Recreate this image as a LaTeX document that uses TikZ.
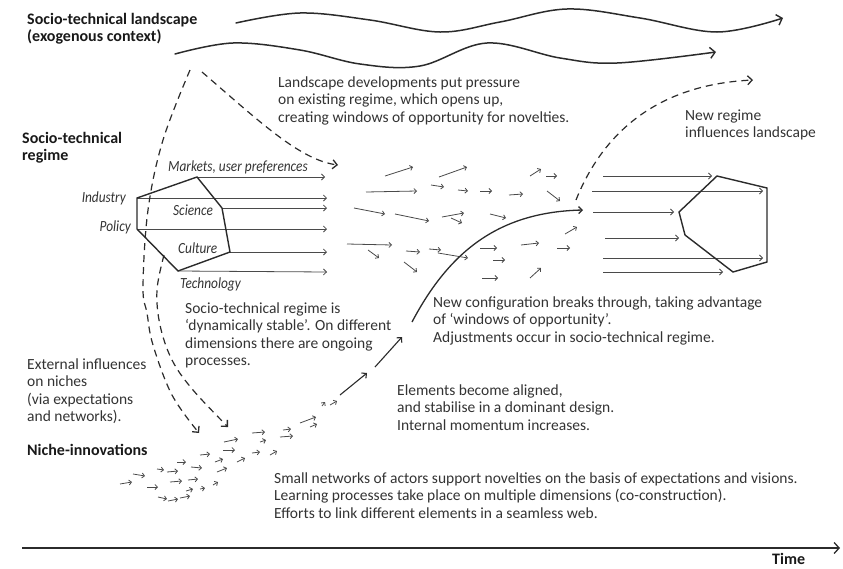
\documentclass[tikz,border=0pt]{standalone}
\usepackage{fontspec}
\setmainfont{Carlito}
\newfontfamily\condfont[FakeStretch=0.86]{Carlito}
\usetikzlibrary{arrows.meta}
\definecolor{ink}{HTML}{2B2B2B}
\definecolor{txtc}{HTML}{333333}
\definecolor{arrgray}{HTML}{4A4A4A}
\begin{document}
\begin{tikzpicture}[x=1pt,y=-1pt,
  wave/.style={line width=1.5pt, draw=ink, line cap=round, -{Straight Barb[length=5pt,width=11pt,line width=1.4pt]}},
  dashline/.style={line width=1.2pt, draw=ink, dash pattern=on 7pt off 5pt, -{Straight Barb[length=4.5pt,width=9pt,line width=1.3pt]}},
  sarr/.style={line width=0.8pt, draw=arrgray, -{Straight Barb[length=2.5pt,width=5pt]}},
  barr/.style={line width=1.1pt, draw=ink, -{Straight Barb[length=3.5pt,width=7pt]}},
  rarr/.style={line width=0.8pt, draw=arrgray, -{Straight Barb[length=3pt,width=6pt]}},
  poly/.style={line width=1.4pt, draw=ink, line join=miter},
  txt/.style={anchor=north west, align=left, inner sep=0pt, text=txtc, font=\fontsize{15.5}{17.5}\selectfont},
  ttl/.style={anchor=north west, align=left, inner sep=0pt, text=black!90, font=\fontsize{16}{17.5}\selectfont\bfseries},
  lbl/.style={inner sep=0pt, text=txtc, font=\condfont\itshape\fontsize{15.5}{17}\selectfont}
]
\useasboundingbox (0,0) rectangle (843,568);

% landscape waves
\draw[wave] plot[smooth, tension=0.6] coordinates {(236,23) (300,13) (370,20) (440,32) (500,22) (567,9) (640,18) (717,32) (783,18)};
\draw[wave] plot[smooth, tension=0.6] coordinates {(175,54) (233,43) (300,50) (360,64) (420,66) (487,43) (560,58) (617,63) (716,52)};

% titles (node top = first baseline - 12.25)
\node[ttl] (tland) at (27,11.75) {\strut Socio-technical landscape\\(exogenous context)};
\node[ttl] (treg) at (22,130.75) {\strut Socio-technical\\regime};
\node[ttl] (tniche) at (27,442.75) {\strut Niche-innovations};
\node[ttl, anchor=base west] (ttime) at (772,564) {Time};

% texts
\node[txt] (t1) at (278,74.75) {\strut Landscape developments put pressure\\on existing regime, which opens up,\\creating windows of opportunity for novelties.};
\node[txt] (t2) at (685,107.75) {\strut New regime\\influences landscape};
\node[txt] (t3) at (185,300.75) {\strut Socio-technical regime is\\`dynamically stable'. On different\\dimensions there are ongoing\\processes.};
\node[txt] (t4) at (27,356.75) {\strut External influences\\on niches\\(via expectations\\and networks).};
\node[txt] (t5) at (433,294.75) {\strut New configuration breaks through, taking advantage\\of `windows of opportunity'.\\Adjustments occur in socio-technical regime.};
\node[txt] (t6) at (397,382.75) {\strut Elements become aligned,\\and stabilise in a dominant design.\\Internal momentum increases.};
\node[txt] (t7) at (274,470.75) {\strut Small networks of actors support novelties on the basis of expectations and visions.\\Learning processes take place on multiple dimensions (co-construction).\\Efforts to link different elements in a seamless web.};

% left regime polygon
\coordinate (L1) at (137,198);
\coordinate (L2) at (197,177);
\coordinate (L3) at (222,208);
\coordinate (L4) at (230,252);
\coordinate (L5) at (178,271);
\coordinate (L6) at (137,229);
\draw[rarr] (L2) -- (325,177);
\draw[rarr] (L1) -- (327,198);
\draw[rarr] (L3) -- (327,208);
\draw[rarr] (L6) -- (327,229);
\draw[rarr] (L4) -- (327,252);
\draw[rarr] (L5) -- (327,272);
\draw[poly] (L1) -- (L2) -- (L3) -- (L4) -- (L5) -- (L6) -- cycle;

\node[lbl, anchor=base west] (lm) at (168,171) {Markets, user preferences};
\node[lbl, anchor=base east] (li) at (126,202) {Industry};
\node[lbl, anchor=base east] (lp) at (131,231) {Policy};
\node[lbl, anchor=base west] (ls) at (173,215) {Science};
\node[lbl, anchor=base west] (lc) at (178,253) {Culture};
\node[lbl, anchor=base west] (lt) at (180,288) {Technology};

% right regime polygon
\coordinate (R1) at (717,176);
\coordinate (R2) at (767,188);
\coordinate (R3) at (767,262);
\coordinate (R4) at (733,272);
\coordinate (R5) at (685,235);
\coordinate (R6) at (679,212);
\draw[rarr] (603,176) -- (712,176);
\draw[rarr] (592,191) -- (763,191);
\draw[rarr] (593,212) -- (674,212);
\draw[rarr] (605,238) -- (679,238);
\draw[rarr] (603,258) -- (763,258);
\draw[rarr] (603,272) -- (723,272);
\draw[poly] (R1) -- (R2) -- (R3) -- (R4) -- (R5) -- (R6) -- cycle;

% dashed influences
\draw[dashline] plot[smooth, tension=0.6] coordinates {(190,70) (163,140) (148,210) (143,287) (147,313) (153,345) (172,395) (199,433)};
\draw[dashline] plot[smooth, tension=0.6] coordinates {(164,255) (157,290) (160,325) (172,360) (193,390) (228,427)};
\draw[dashline] (202,72) .. controls (260,122) and (300,160) .. (338,165);
\draw[dashline] (576,200) .. controls (600,140) and (650,85) .. (753,80);

% middle scattered arrows
\foreach \a/\b/\c/\d in {385/176/413/167, 439/177/467/167, 530/176/541/169, 546/176/557/176,
  366/192/417/191, 431/185/444/187, 458/190/468/191, 480/191/492/191, 509/195/523/194, 547/191/560/201,
  354/208/385/214, 395/214/429/221, 442/217/464/213, 451/218/462/223, 490/214/506/218,
  347/244/392/245, 368/250/379/258, 406/251/420/252, 429/249/441/250, 438/253/468/258,
  404/262/417/272, 480/248/497/248, 493/260/505/260, 482/278/498/278, 521/245/539/243,
  557/248/570/248, 530/278/541/268, 565/234/577/227}
  \draw[sarr] (\a,\b) -- (\c,\d);

% niche arrows
\foreach \a/\b/\c/\d in {120/484/132/482, 133/474/145/476, 147/487/158/487, 157/469/164/470,
  167/472/178/471, 177/462/186/462, 191/467/202/468, 170/482/182/481, 188/480/198/479,
  158/497/167/499, 168/501/178/499, 180/498/190/496, 186/491/193/489, 200/489/205/488,
  213/485/218/482, 200/455/210/454, 215/462/223/459, 217/472/227/468, 224/442/238/439,
  223/450/235/450, 237/462/245/458, 252/453/260/452, 252/433/265/432, 260/442/266/440,
  270/455/277/451, 280/437/293/436, 283/430/291/429, 300/423/316/417, 310/427/317/424,
  322/406/325/402, 330/405/337/401}
  \draw[sarr] (\a,\b) -- (\c,\d);
\draw[barr] (340,395) -- (367,373);
\draw[barr] (375,367) -- (402,337);

% breakthrough curve
\draw[line width=1.3pt, draw=ink, -{Straight Barb[length=3.5pt,width=7pt]}] (412,322) .. controls (450,250) and (500,212) .. (583,210);

% time axis
\draw[line width=1.4pt, draw=ink, -{Straight Barb[length=5pt,width=11pt,line width=1.3pt]}] (22,548) -- (840,548);
\end{tikzpicture}
\end{document}
